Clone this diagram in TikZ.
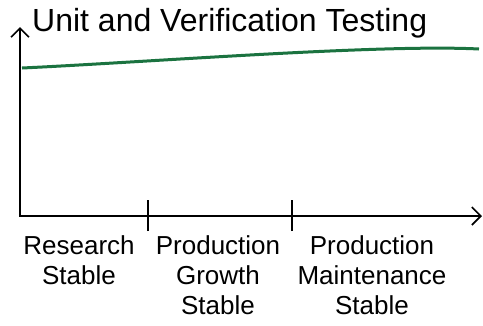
\documentclass[tikz,border=0pt]{standalone}
\usepackage{fontspec}
\setmainfont{Liberation Sans}
\usetikzlibrary{positioning, arrows.meta}
\definecolor{tsgreen}{HTML}{1B7340}
\definecolor{tsdark}{HTML}{000000}
\tikzset{
  axis/.style={tsdark, line width=1.6pt, -{Straight Barb[length=9pt, width=18pt]}},
  phase/.style={align=center, font=\fontsize{26}{30}\selectfont, anchor=north, inner sep=0pt},
}

\begin{document}
\begin{tikzpicture}[x=1pt, y=-1pt]
    \useasboundingbox (0,0) rectangle (483,325);
    % axes
    \coordinate (origin) at (20,216);
    \coordinate (ytop) at (20,27);
    \coordinate (xend) at (482,216);
    \draw[axis] (origin) -- (ytop);
    \draw[axis] ([xshift=-0.8pt]origin) -- (xend);
    % ticks between phases
    \coordinate (tick1) at (148,216);
    \coordinate (tick2) at (292,216);
    \draw[tsdark, line width=1.2pt] ([yshift=-15pt]tick1) -- ([yshift=16pt]tick1);
    \draw[tsdark, line width=1.2pt] ([yshift=-15pt]tick2) -- ([yshift=16pt]tick2);
    % title
    \node[anchor=base west, inner sep=0pt, font=\fontsize{32}{36}\selectfont] (title) at (32,31) {Unit and Verification Testing};
    % testing effort
    \coordinate (start) at (22,68);
    \coordinate (stop) at (479,49);
    \draw[tsgreen, line width=3pt] (start) .. controls (150,62) and (380,44) .. (stop);
    % phase labels
    \node[phase] (research) at (79,235) {Research\\Stable};
    \node[phase] (growth) at (218,235) {Production\\Growth\\Stable};
    \node[phase] (maint) at (372,235) {Production\\Maintenance\\Stable};
\end{tikzpicture}
\end{document}
